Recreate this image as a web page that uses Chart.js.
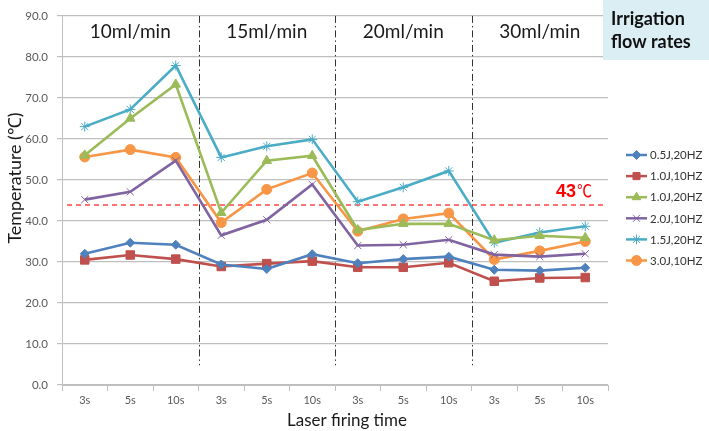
<!DOCTYPE html>
<html>
<head>
<meta charset="utf-8">
<script src="https://cdn.jsdelivr.net/npm/chart.js@4/dist/chart.umd.min.js"></script>
<style>
html,body{margin:0;padding:0;background:#fff;}
#wrap{position:relative;width:709px;height:431px;}
</style>
</head>
<body>
<div id="wrap"><canvas id="c" width="709" height="431"></canvas></div>
<script>
// ---- data ----
const categories = ['3s','5s','10s','3s','5s','10s','3s','5s','10s','3s','5s','10s'];
const flowRates = ['10ml/min','15ml/min','20ml/min','30ml/min'];
const seriesNames = ['0.5J,20HZ','1.0J,10HZ','1.0J,20HZ','2.0J,10HZ','1.5J,20HZ','3.0J,10HZ'];
const s05J20HZ = [32.0,34.7,34.2, 29.4,28.3,31.9, 29.7,30.7,31.3, 28.1,27.9,28.6];
const s10J10HZ = [30.5,31.7,30.7, 28.9,29.6,30.2, 28.7,28.7,29.8, 25.3,26.1,26.2];
const s10J20HZ = [56.0,65.0,73.3, 42.0,54.7,55.9, 37.8,39.3,39.3, 35.3,36.4,35.9];
const s20J10HZ = [45.2,47.1,54.7, 36.5,40.3,48.9, 34.0,34.2,35.4, 31.8,31.3,32.0];
const s15J20HZ = [63.0,67.2,77.9, 55.5,58.2,59.9, 44.7,48.2,52.2, 34.7,37.2,38.7];
const s30J10HZ = [55.6,57.4,55.5, 39.6,47.7,51.7, 37.5,40.5,41.9, 30.6,32.7,35.0];
const yMin = 0, yMax = 90, yStep = 10;
const thresholdValue = 43.8;
const thresholdLabel = '43';
const thresholdUnit = '℃';
const xTitle = 'Laser firing time';
const yTitle = 'Temperature (℃)';
const boxLines = ['Irrigation','flow rates'];

const seriesData = [s05J20HZ, s10J10HZ, s10J20HZ, s20J10HZ, s15J20HZ, s30J10HZ];
const colors = ['#4F81BD','#C0504D','#9BBB59','#8064A2','#4BACC6','#F79646'];
const styles = [
  {pointStyle:'rectRot', radius:4.5},
  {pointStyle:'rect', radius:6},
  {pointStyle:'triangle', radius:5.5},
  {pointStyle:'crossRot', radius:5},
  {pointStyle:'star', radius:5},
  {pointStyle:'circle', radius:5}
];

const FONT = 'Lato, "Open Sans", sans-serif';

const datasets = seriesData.map((d,i)=>({
  label: seriesNames[i],
  data: d,
  borderColor: colors[i],
  backgroundColor: colors[i],
  borderWidth: 2.6,
  pointStyle: styles[i].pointStyle,
  pointRadius: styles[i].radius,
  pointHoverRadius: styles[i].radius,
  pointBorderWidth: 1,
  pointBorderColor: colors[i],
  pointBackgroundColor: colors[i],
  tension: 0,
  fill: false
}));

function drawMarker(ctx, style, radius, color, x, y){
  ctx.save();
  ctx.fillStyle = color; ctx.strokeStyle = color; ctx.lineWidth = 1;
  if (Chart.helpers && Chart.helpers.drawPoint) {
    Chart.helpers.drawPoint(ctx, {pointStyle: style, radius: radius, rotation: 0, borderWidth: 1}, x, y);
  }
  ctx.restore();
}

const overlayPlugin = {
  id: 'overlay',
  beforeDatasetsDraw(chart){
    const {ctx, chartArea, scales} = chart;
    const x = scales.x, y = scales.y;
    // section separators
    ctx.save();
    ctx.strokeStyle = '#333333';
    ctx.lineWidth = 1;
    ctx.setLineDash([7,3,1.5,3]);
    for (let k = 1; k < flowRates.length; k++) {
      const i = k*3;
      const px = Math.round((x.getPixelForValue(i-1) + x.getPixelForValue(i))/2) + 0.5;
      ctx.beginPath();
      ctx.moveTo(px, chartArea.top);
      ctx.lineTo(px, y.getPixelForValue(4.8));
      ctx.stroke();
    }
    ctx.restore();
    // threshold
    ctx.save();
    ctx.beginPath();
    ctx.setLineDash([5,4]);
    ctx.strokeStyle = 'rgb(255,70,70)';
    ctx.lineWidth = 1.6;
    const ty = Math.round(y.getPixelForValue(thresholdValue));
    ctx.moveTo(chartArea.left + 5, ty);
    ctx.lineTo(chartArea.right - 5, ty);
    ctx.stroke();
    ctx.restore();
    // threshold label
    ctx.save();
    ctx.fillStyle = '#FF0000';
    ctx.textBaseline = 'alphabetic';
    ctx.font = 'bold 18px "Liberation Sans", Arial, sans-serif';
    const lx = 556;
    ctx.fillText(thresholdLabel, lx, ty - 8);
    const w = ctx.measureText(thresholdLabel).width;
    ctx.font = '17px "Noto Sans CJK SC", sans-serif';
    ctx.fillText(thresholdUnit, lx + w + 1, ty - 8, 15);
    ctx.restore();
    // section headers
    ctx.save();
    ctx.fillStyle = '#1a1a1a';
    ctx.font = '19px ' + FONT;
    ctx.textAlign = 'center';
    ctx.textBaseline = 'middle';
    for (let k = 0; k < flowRates.length; k++) {
      const a = k*3, b = k*3+2;
      const left = (k===0) ? chartArea.left : (x.getPixelForValue(a-1)+x.getPixelForValue(a))/2;
      const right = (k===flowRates.length-1) ? chartArea.right : (x.getPixelForValue(b)+x.getPixelForValue(b+1))/2;
      ctx.fillText(flowRates[k], (left+right)/2, 32);
    }
    ctx.restore();
  },
  afterDraw(chart){
    const {ctx} = chart;
    // axis titles
    ctx.save();
    ctx.fillStyle = '#1a1a1a';
    ctx.textAlign = 'center';
    ctx.textBaseline = 'middle';
    ctx.font = '17.5px ' + FONT;
    ctx.fillText(xTitle, 347, 420, 120);
    ctx.translate(15, 178);
    ctx.rotate(-Math.PI/2);
    ctx.font = '18px ' + FONT;
    ctx.fillText(yTitle, 0, 0, 131);
    ctx.restore();
    // info box
    ctx.save();
    ctx.fillStyle = '#DAEEF3';
    ctx.fillRect(603, 0, 106, 60);
    ctx.fillStyle = '#111';
    ctx.font = 'bold 18px ' + FONT;
    ctx.textBaseline = 'middle';
    ctx.fillText(boxLines[0], 611, 19);
    ctx.fillText(boxLines[1], 611, 42);
    ctx.restore();
    // legend
    ctx.save();
    const lx0 = 626, lx1 = 647, ly0 = 155, dy = 21.1;
    ctx.font = '11.5px ' + FONT;
    ctx.textBaseline = 'middle';
    chart.data.datasets.forEach((ds, i) => {
      const yy = ly0 + i*dy;
      ctx.strokeStyle = ds.borderColor;
      ctx.lineWidth = 2.5;
      ctx.setLineDash([]);
      ctx.beginPath(); ctx.moveTo(lx0, yy); ctx.lineTo(lx1, yy); ctx.stroke();
      drawMarker(ctx, ds.pointStyle, Math.min(ds.pointRadius, 5), ds.borderColor, (lx0+lx1)/2, yy);
      ctx.fillStyle = '#333';
      ctx.fillText(ds.label, 650, yy + 0.5);
    });
    ctx.restore();
  }
};

new Chart(document.getElementById('c'), {
  type: 'line',
  data: { labels: categories, datasets: datasets },
  options: {
    responsive: false,
    animation: false,
    devicePixelRatio: 1,
    layout: { padding: { left: 0, right: 101, top: 15, bottom: 0 } },
    plugins: { legend: { display: false }, tooltip: { enabled: false } },
    scales: {
      x: {
        offset: true,
        grid: { offset: true, drawOnChartArea: false, drawTicks: true, tickLength: 6, color: '#BFBFBF', lineWidth: 1 },
        border: { color: '#BFBFBF', width: 1 },
        ticks: { color: '#595959', font: { family: FONT, size: 11 }, padding: 3, maxRotation: 0, autoSkip: false },
        title: { display: false },
        afterFit(s){ s.height = 46; }
      },
      y: {
        min: yMin, max: yMax,
        grid: { color: '#BFBFBF', lineWidth: 1.2, tickLength: 5, drawTicks: true },
        border: { color: '#BFBFBF', width: 1 },
        ticks: { stepSize: yStep, color: '#595959', font: { family: FONT, size: 11.5 }, padding: 9,
                 callback: v => Number(v).toFixed(1) },
        title: { display: false },
        afterFit(s){ s.width = 62; }
      }
    }
  },
  plugins: [overlayPlugin]
});
</script>
</body>
</html>
